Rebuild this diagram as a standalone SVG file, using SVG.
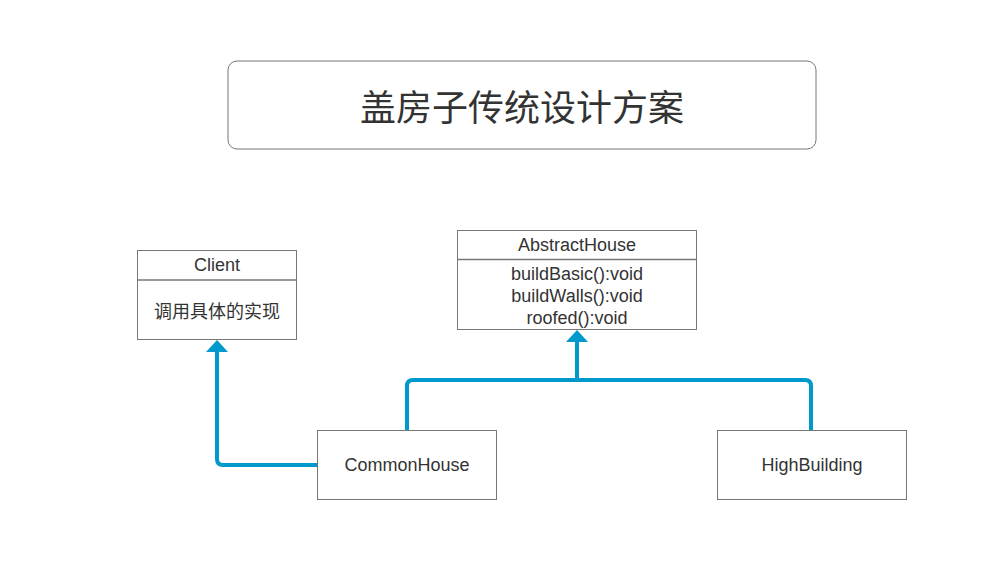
<svg xmlns="http://www.w3.org/2000/svg" width="999" height="583" viewBox="0 0 999 583">
<style>
.box{fill:#fff;stroke:#777;stroke-width:1}
.t{font-family:"Liberation Sans","Noto Sans CJK SC",sans-serif;font-size:18px;fill:#333;text-anchor:middle;dominant-baseline:central}
.c{fill:none;stroke:#0099CC;stroke-width:4;stroke-linejoin:round}
.ah{fill:#0099CC}
</style>
<rect width="999" height="583" fill="#fff"/>
<g id="title">
<rect class="box" x="228" y="61" width="588" height="88" rx="9"/>
<text class="t" x="522" y="105" style="font-size:36px;font-family:'Noto Sans CJK SC',sans-serif">盖房子传统设计方案</text>
</g>
<g id="client">
<rect class="box" x="137.5" y="250.5" width="159" height="89"/>
<line x1="137.5" y1="280" x2="296.5" y2="280" stroke="#777" stroke-width="1.5"/>
<text class="t" x="217" y="265">Client</text>
<text class="t" x="217" y="310" style="font-family:'Noto Sans CJK SC',sans-serif">调用具体的实现</text>
</g>
<g id="abstracthouse">
<rect class="box" x="457.5" y="230.5" width="239" height="99"/>
<line x1="457.5" y1="259.5" x2="696.5" y2="259.5" stroke="#777" stroke-width="1.5"/>
<text class="t" x="577" y="245">AbstractHouse</text>
<text class="t" x="577" y="274">buildBasic():void</text>
<text class="t" x="577" y="296">buildWalls():void</text>
<text class="t" x="577" y="318">roofed():void</text>
</g>
<g id="commonhouse">
<rect class="box" x="317.5" y="430.5" width="179" height="69"/>
<text class="t" x="407" y="465">CommonHouse</text>
</g>
<g id="highbuilding">
<rect class="box" x="717.5" y="430.5" width="189" height="69"/>
<text class="t" x="812" y="465">HighBuilding</text>
</g>
<g id="connectors">
<path class="c" d="M317 465 H223 Q217 465 217 459 V350"/>
<polygon class="ah" points="217,340 228,352 206,352"/>
<path class="c" d="M407 430 V386 Q407 380 413 380 H577 V340"/>
<path class="c" d="M811 430 V386 Q811 380 805 380 H577"/>
<polygon class="ah" points="577,330 588,342 566,342"/>
</g>
</svg>
